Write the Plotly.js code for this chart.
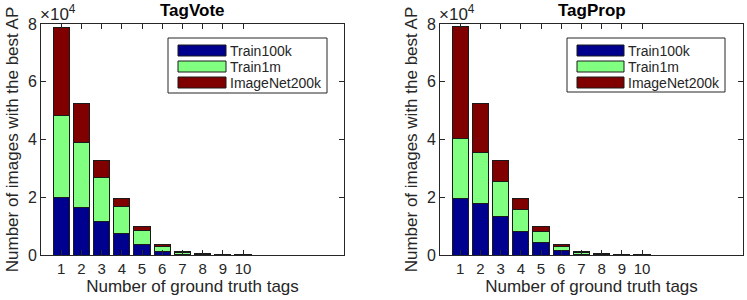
<!DOCTYPE html>
<html>
<head>
<meta charset="utf-8">
<script src="https://cdn.plot.ly/plotly-3.0.1.min.js"></script>
<style>html,body{margin:0;padding:0;background:#fff;}#chart{width:747px;height:300px;}</style>
</head>
<body>
<div id="chart"></div>
<script>
const categories = [1, 2, 3, 4, 5, 6, 7, 8, 9, 10];
const seriesNames = ["Train100k", "Train1m", "ImageNet200k"];

// TagVote (left panel)
const voteTrain100k = [19800, 16500, 11500, 7300, 3800, 1300, 300, 100, 50, 20];
const voteTrain1m = [28600, 22300, 15300, 9400, 4750, 1600, 700, 200, 80, 40];
const voteImageNet200k = [30500, 13700, 6100, 3000, 1350, 670, 150, 50, 20, 10];

// TagProp (right panel)
const propTrain100k = [19500, 18000, 13200, 8300, 4300, 1600, 300, 100, 50, 20];
const propTrain1m = [20900, 17400, 12300, 7600, 3900, 1200, 700, 200, 80, 40];
const propImageNet200k = [38700, 17200, 7400, 3800, 1700, 900, 150, 50, 20, 10];

const yTickVals = [0, 20000, 40000, 60000, 80000];
const yTickText = ["0", "2", "4", "6", "8"];
const xTickVals = [1, 2, 3, 4, 5, 6, 7, 8, 9, 10];

const colors = ["#00008f", "#80ff80", "#800000"];
const FONT = "Liberation Sans, Arial, Helvetica, sans-serif";
const TXT = "#262626";

function mk(y, i, xa, ya) {
  return {
    type: "bar", x: categories, y: y, name: seriesNames[i],
    xaxis: xa, yaxis: ya, width: 0.8, showlegend: false,
    marker: {color: colors[i], line: {color: "#1a1a1a", width: 1}},
    hoverinfo: "skip"
  };
}

const data = [
  mk(voteTrain100k, 0, "x", "y"),
  mk(voteTrain1m, 1, "x", "y"),
  mk(voteImageNet200k, 2, "x", "y"),
  mk(propTrain100k, 0, "x2", "y2"),
  mk(propTrain1m, 1, "x2", "y2"),
  mk(propImageNet200k, 2, "x2", "y2")
];

const W = 747, H = 300;
const d1 = [41 / W, 344 / W], d2 = [440 / W, 743 / W];
const yd = [45 / H, 276 / H];

function xax(dom, anchor) {
  return {
    domain: dom, anchor: anchor, range: [0, 15], tickvals: xTickVals,
    ticks: "inside", ticklen: 5, tickcolor: TXT, mirror: "ticks",
    showline: true, linecolor: TXT, linewidth: 1, showgrid: false, zeroline: false,
    tickfont: {family: FONT, size: 15, color: TXT},
    title: {text: "Number of ground truth tags", font: {family: FONT, size: 17, color: TXT}, standoff: 2}
  };
}
function yax(anchor) {
  return {
    domain: yd, anchor: anchor, range: [0, 80000], tickvals: yTickVals, ticktext: yTickText,
    ticks: "inside", ticklen: 5, tickcolor: TXT, mirror: "ticks",
    showline: true, linecolor: TXT, linewidth: 1, showgrid: false, zeroline: false,
    tickfont: {family: FONT, size: 16, color: TXT},
    title: {text: "Number of images with the best AP", font: {family: FONT, size: 17, color: TXT}, standoff: 4}
  };
}

// Custom legend boxes (wide swatches as in the reference)
const shapes = [];
const annotations = [];
function legendAt(x0, x1, y0, y1, swX0, swX1, txtX) {
  shapes.push({type: "rect", xref: "paper", yref: "paper",
    x0: x0 / W, x1: x1 / W, y0: 1 - y1 / H, y1: 1 - y0 / H,
    line: {color: TXT, width: 1}, fillcolor: "#fff", layer: "above"});
  const rows = [[45, 56], [61, 72], [77, 88]];
  rows.forEach((r, i) => {
    shapes.push({type: "rect", xref: "paper", yref: "paper",
      x0: swX0 / W, x1: swX1 / W, y0: 1 - r[1] / H, y1: 1 - r[0] / H,
      line: {color: "#1a1a1a", width: 1}, fillcolor: colors[i], layer: "above"});
    annotations.push({text: seriesNames[i], xref: "paper", yref: "paper",
      x: txtX / W, y: 1 - ((r[0] + r[1]) / 2) / H, xanchor: "left", yanchor: "middle",
      showarrow: false, font: {family: FONT, size: 14, color: TXT}});
  });
}
legendAt(168, 327, 38, 93, 178, 226, 228);
legendAt(567, 725, 38, 92, 577, 624, 626);

annotations.push(
  {text: "<b>TagVote</b>", x: (d1[0] + d1[1]) / 2, y: 1 - 11 / H, xref: "paper", yref: "paper",
   xanchor: "center", yanchor: "middle", showarrow: false, font: {family: FONT, size: 17, color: "#000"}},
  {text: "<b>TagProp</b>", x: (d2[0] + d2[1]) / 2, y: 1 - 11 / H, xref: "paper", yref: "paper",
   xanchor: "center", yanchor: "middle", showarrow: false, font: {family: FONT, size: 17, color: "#000"}},
  {text: "×10<sup>4</sup>", x: 38 / W, y: 1 - 13 / H, xref: "paper", yref: "paper",
   xanchor: "left", yanchor: "middle", showarrow: false, font: {family: FONT, size: 17, color: TXT}},
  {text: "×10<sup>4</sup>", x: 437 / W, y: 1 - 13 / H, xref: "paper", yref: "paper",
   xanchor: "left", yanchor: "middle", showarrow: false, font: {family: FONT, size: 17, color: TXT}}
);

const layout = {
  width: W, height: H, margin: {l: 0, r: 0, t: 0, b: 0},
  paper_bgcolor: "#fff", plot_bgcolor: "#fff",
  barmode: "stack", bargap: 0.2, showlegend: false,
  font: {family: FONT, color: TXT},
  xaxis: xax(d1, "y"), yaxis: yax("x"),
  xaxis2: xax(d2, "y2"), yaxis2: yax("x2"),
  shapes: shapes,
  annotations: annotations
};

Plotly.newPlot("chart", data, layout, {staticPlot: true, displayModeBar: false});
</script>
</body>
</html>
